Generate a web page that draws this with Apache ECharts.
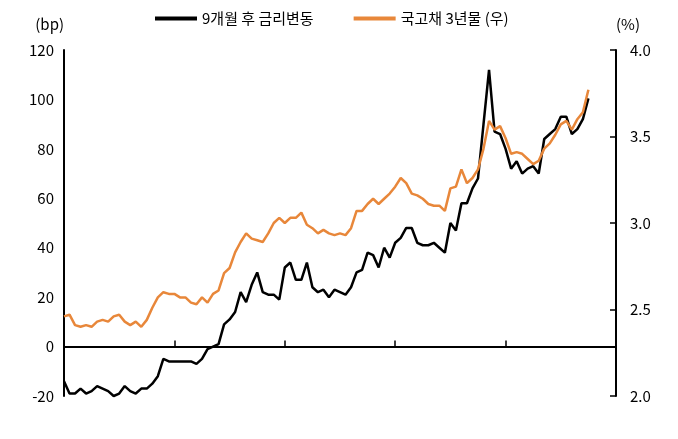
<!DOCTYPE html><html><head><meta charset="utf-8"><script src="https://cdn.jsdelivr.net/npm/echarts@6/dist/echarts.min.js"></script></head><body style="margin:0"><div id="c" style="width:678px;height:439px"></div><script>
const tickLabels={0:'`25.8',20:'`25.10',40:'`25.12',60:'`26.2',80:'`26.4'};
const spread=[-14,-19,-19,-17,-19,-18,-16,-17,-18,-20,-19,-16,-18,-19,-17,-17,-15,-12,-5,-6,-6,-6,-6,-6,-7,-5,-1,0,1,9,11,14,22,18,25,30,22,21,21,19,32,34,27,27,34,24,22,23,20,23,22,21,24,30,31,38,37,32,40,36,42,44,48,48,42,41,41,42,40,38,50,47,58,58,64,68,90,112,87,86,80,72,75,70,72,73,70,84,86,88,93,93,86,88,92,100.4];
const yield3=[2.46,2.47,2.41,2.40,2.41,2.40,2.43,2.44,2.43,2.46,2.47,2.43,2.41,2.43,2.40,2.44,2.51,2.57,2.60,2.59,2.59,2.57,2.57,2.54,2.53,2.57,2.54,2.59,2.61,2.71,2.74,2.83,2.89,2.94,2.91,2.90,2.89,2.94,3.00,3.03,3.00,3.03,3.03,3.06,2.99,2.97,2.94,2.96,2.94,2.93,2.94,2.93,2.97,3.07,3.07,3.11,3.14,3.11,3.14,3.17,3.21,3.26,3.23,3.17,3.16,3.14,3.11,3.10,3.10,3.07,3.20,3.21,3.31,3.23,3.26,3.31,3.43,3.59,3.54,3.56,3.49,3.40,3.41,3.40,3.37,3.34,3.36,3.43,3.46,3.51,3.57,3.59,3.54,3.60,3.64,3.77];
const totalSlots=101;
const cats=Array.from({length:totalSlots},(_,i)=>tickLabels[i]||'');
const F='"Noto Sans CJK KR","Noto Sans",sans-serif';
const lastLbl=(arr,off)=>arr.map((v,i)=>i===arr.length-1?{value:v,symbol:'circle',symbolSize:1,label:{show:true,position:'right',offset:off,fontSize:16,color:'#000',fontFamily:F,formatter:p=>String(p.value)}}:v);
const ch=echarts.init(document.getElementById('c'));
ch.setOption({animation:false,textStyle:{fontFamily:F},
legend:{top:6,left:150,itemGap:40,itemWidth:42,icon:'path://M0,0H1V0.1H0Z',textStyle:{fontSize:15,color:'#000'},data:['9개월 후 금리변동','국고채 3년물 (우)']},
grid:{left:64,right:62,top:50,bottom:43,outerBoundsMode:'none',containLabel:false},
xAxis:{type:'category',data:cats,boundaryGap:false,axisLine:{onZero:true,lineStyle:{color:'#000',width:2}},axisTick:{inside:true,length:6,interval:i=>!!tickLabels[i],lineStyle:{color:'#000',width:1.5}},axisLabel:{interval:i=>!!tickLabels[i],hideOverlap:false,fontSize:15,color:'#000',margin:62}},
yAxis:[{type:'value',min:-20,max:120,interval:20,name:'(bp)',nameLocation:'end',nameGap:18,nameTextStyle:{fontSize:15,color:'#000',align:'right'},axisLine:{show:true,lineStyle:{color:'#000',width:2}},axisTick:{show:false},splitLine:{show:false},axisLabel:{fontSize:15,color:'#000',margin:10}},
{type:'value',min:2.0,max:4.0,interval:0.5,name:'(%)',nameGap:18,nameTextStyle:{fontSize:15,color:'#000',align:'left'},axisLine:{show:true,lineStyle:{color:'#000',width:2}},axisTick:{show:true,inside:true,length:6,lineStyle:{color:'#000',width:1.5}},splitLine:{show:false},axisLabel:{fontSize:15,color:'#000',margin:14,formatter:v=>v.toFixed(1)}}],
series:[{name:'9개월 후 금리변동',type:'line',data:lastLbl(spread,[8,6]),symbol:'none',showSymbol:true,clip:false,lineStyle:{color:'#000',width:2.5},itemStyle:{color:'#000'}},
{name:'국고채 3년물 (우)',type:'line',yAxisIndex:1,data:lastLbl(yield3,[-40,-20]),symbol:'none',showSymbol:true,clip:false,lineStyle:{color:'#E8873A',width:2.5},itemStyle:{color:'#E8873A'}}]});
</script></body></html>
